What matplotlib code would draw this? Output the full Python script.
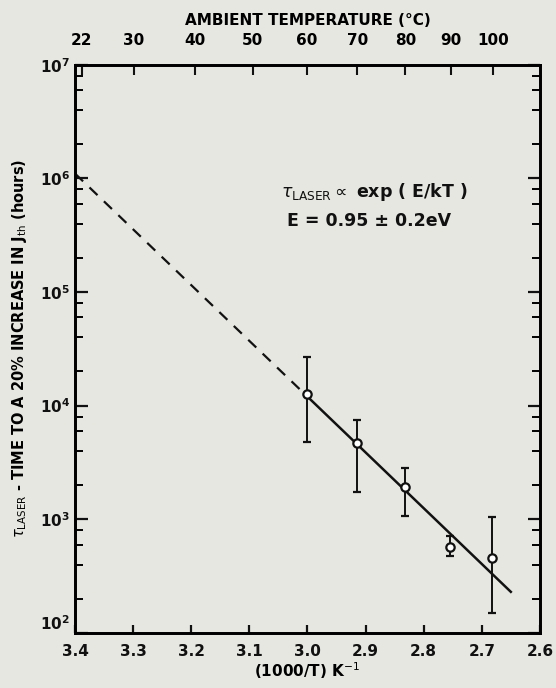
import numpy as np
import matplotlib.pyplot as plt
from matplotlib.ticker import FixedLocator, NullFormatter

# ==========================================
# DATA
# ==========================================

inv_T = [3.00, 2.915, 2.832, 2.755, 2.682]          # (1000/T) K^-1
tau = [12700, 4720, 1940, 569, 460]                 # hours
tau_hi = [26600, 7470, 2840, 720, 1040]
tau_lo = [4800, 1750, 1080, 475, 149]

# fitted line: dashed extrapolation + solid part over the data
dash_x = [3.4, 3.0]
dash_y = [1.1e6, 1.2e4]
solid_x = [3.0, 2.65]
solid_y = [1.2e4, 230]

x_ticks = [3.4, 3.3, 3.2, 3.1, 3.0, 2.9, 2.8, 2.7, 2.6]
temps_C = [22, 30, 40, 50, 60, 70, 80, 90, 100]
y_decades = [1e2, 1e3, 1e4, 1e5, 1e6, 1e7]

# ==========================================
# PLOT
# ==========================================

bg = "#e7e7e1"
ink = "#111111"

fig = plt.figure(figsize=(5.56, 6.88), dpi=100, facecolor=bg)
ax = fig.add_axes([0.135, 0.080, 0.836, 0.826], facecolor=bg)

ax.plot(dash_x, dash_y, color=ink, lw=1.6, ls=(0, (5, 4)))
ax.plot(solid_x, solid_y, color=ink, lw=1.8)

err = [np.array(tau) - np.array(tau_lo), np.array(tau_hi) - np.array(tau)]
ax.errorbar(inv_T, tau, yerr=err, fmt="o", ms=6, mfc="white", mec=ink, mew=1.6,
            ecolor=ink, elinewidth=1.4, capsize=3, capthick=2.5, zorder=3)

ax.set_yscale("log")
ax.set_ylim(1e2, 1e7)
ax.set_xlim(3.4, 2.6)

ax.xaxis.set_major_locator(FixedLocator(x_ticks))
ax.set_xticklabels([f"{v:.1f}" for v in x_ticks], fontsize=11, fontweight="bold")
ax.yaxis.set_major_locator(FixedLocator(y_decades))
ax.yaxis.set_minor_locator(FixedLocator(
    [m * d for d in y_decades[:-1] for m in (2, 4, 6, 8)]))
ax.yaxis.set_minor_formatter(NullFormatter())
ylabels = ax.set_yticklabels(
    [r"$\mathbf{10^{%d}}$" % int(np.log10(v)) for v in y_decades], fontsize=11)
ylabels[0].set_verticalalignment("bottom")

ax.tick_params(axis="both", which="major", direction="in", length=9, width=1.6,
               color=ink, right=True, top=False, labelcolor=ink)
ax.tick_params(axis="y", which="minor", direction="in", length=6, width=1.4,
               right=True)
ax.tick_params(axis="x", which="major", length=6, pad=8)
for s in ax.spines.values():
    s.set_linewidth(2)
    s.set_color(ink)

ax.set_xlabel(r"(1000/T) K$^{-1}$", fontsize=11, fontweight="bold", labelpad=1)
ax.set_ylabel(r"$\tau_{\rm LASER}$ - TIME TO A 20% INCREASE IN J$_{\rm th}$ (hours)",
              fontsize=10.5, fontweight="bold", labelpad=8)

# top axis: ambient temperature
top = ax.twiny()
top.set_xlim(ax.get_xlim())
top.set_xticks([1000 / (t + 273.15) for t in temps_C])
top.set_xticklabels([str(t) for t in temps_C], fontsize=11, fontweight="bold")
top.tick_params(direction="in", length=7, width=1.5, color=ink, pad=12)
top.set_xlabel("AMBIENT TEMPERATURE (°C)", fontsize=11, fontweight="bold",
               labelpad=6)
for s in top.spines.values():
    s.set_linewidth(2)

ax.text(3.045, 7.6e5, r"$\tau_{\rm LASER} \propto$ exp ( E/kT )", fontsize=12.5,
        fontweight="bold", color=ink, va="center")
ax.text(3.035, 4.2e5, "E = 0.95 ± 0.2eV", fontsize=12.5, fontweight="bold",
        color=ink, va="center")

fig.savefig("out.png", dpi=100, facecolor=bg)
